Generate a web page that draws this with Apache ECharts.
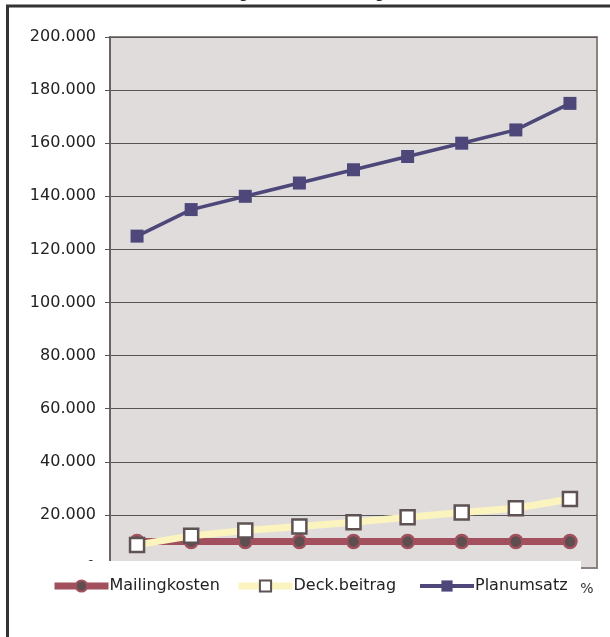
<!DOCTYPE html>
<html>
<head>
<meta charset="utf-8">
<script src="https://cdn.jsdelivr.net/npm/echarts@6/dist/echarts.min.js"></script>
<style>
  html, body { margin: 0; padding: 0; background: #fff; }
  #chart { width: 610px; height: 637px; }
</style>
</head>
<body>
<div id="chart"></div>
<script>
// Campaign steps along the x axis
const categories = ['1', '2', '3', '4', '5', '6', '7', '8', '9'];
// Values in Euro
const mailingkosten = [10000, 10000, 10000, 10000, 10000, 10000, 10000, 10000, 10000];
const deckbeitrag   = [8700, 12100, 14100, 15600, 17200, 19100, 20900, 22500, 26000];
const planumsatz    = [125000, 135000, 140000, 145000, 150000, 155000, 160000, 165000, 175000];
const seriesNames = ['Mailingkosten', 'Deck.beitrag', 'Planumsatz'];
const titleText = 'Erfolgskontrolle Mailingaktion';

const labelFont = 'DejaVu Sans, Verdana, sans-serif';
const titleFont = 'Liberation Sans, Arial, sans-serif';

function thousands(v) {
  if (v === 0) return '0';
  return String(v).replace(/\B(?=(\d{3})+(?!\d))/g, '.');
}

const chart = echarts.init(document.getElementById('chart'), null, { renderer: 'canvas' });

const legendBase = {
  top: 573,
  itemWidth: 54,
  itemHeight: 14,
  itemGap: 0,
  textStyle: { fontFamily: labelFont, fontSize: 16, color: '#222', padding: [0, 0, 0, -4] },
  z: 5
};

chart.setOption({
  backgroundColor: '#ffffff',
  animation: false,
  grid: {
    left: 110, right: 13, top: 37, bottom: 69,
    show: true,
    backgroundColor: '#e0dcdb',
    borderColor: '#8d8280',
    borderWidth: 2
  },
  xAxis: {
    type: 'category',
    data: categories,
    boundaryGap: true,
    axisLine: { show: true, lineStyle: { color: '#8d8280', width: 2 } },
    axisTick: { show: false },
    axisLabel: { show: false },
    splitLine: { show: false }
  },
  yAxis: {
    type: 'value',
    min: 0, max: 200000, interval: 20000,
    axisLine: { show: true, lineStyle: { color: '#6b6262', width: 2 } },
    axisTick: { show: true, length: 5, lineStyle: { color: '#555', width: 1 } },
    axisLabel: {
      margin: 14,
      fontFamily: labelFont, fontSize: 16, color: '#222',
      formatter: thousands
    },
    splitLine: { show: true, lineStyle: { color: '#555', width: 1 } }
  },
  legend: [
    Object.assign({}, legendBase, { left: 46, data: [{ name: seriesNames[0], lineStyle: { width: 7 } }] }),
    Object.assign({}, legendBase, { left: 230, data: [{ name: seriesNames[1], lineStyle: { width: 7 } }] }),
    Object.assign({}, legendBase, { left: 413, data: [{ name: seriesNames[2], lineStyle: { width: 4 } }] })
  ],
  series: [
    {
      name: seriesNames[0],
      type: 'line',
      data: mailingkosten,
      symbol: 'circle',
      symbolSize: 13,
      lineStyle: { color: '#a3505e', width: 7 },
      itemStyle: { color: '#5e4e50', borderColor: '#a3505e', borderWidth: 2.5 },
      z: 2
    },
    {
      name: seriesNames[1],
      type: 'line',
      data: deckbeitrag,
      symbol: 'rect',
      symbolSize: 14,
      lineStyle: { color: '#fbf4bf', width: 7 },
      itemStyle: { color: '#ffffff', borderColor: '#5e5252', borderWidth: 2.5 },
      z: 3
    },
    {
      name: seriesNames[2],
      type: 'line',
      data: planumsatz,
      symbol: 'rect',
      symbolSize: 13,
      lineStyle: { color: '#4d4879', width: 3.5 },
      itemStyle: { color: '#4d4879', borderColor: '#4d4879', borderWidth: 0 },
      z: 4
    }
  ],
  graphic: [
    // outer frame
    {
      type: 'rect', z: 10,
      shape: { x: 7.5, y: 6, width: 720, height: 720 },
      style: { fill: 'none', stroke: '#333', lineWidth: 3 }
    },
    // title, only its lower edge falls inside the canvas
    {
      type: 'text', z: 10, x: 317, y: 2,
      style: {
        text: titleText, font: 'bold 16px ' + titleFont, fill: '#222',
        align: 'center', verticalAlign: 'bottom'
      }
    },
    // white legend panel over the lower part of the plot
    {
      type: 'rect', z: 4,
      shape: { x: 9, y: 561, width: 572, height: 60 },
      style: { fill: '#ffffff' }
    },
    // trailing piece of an axis label beside the legend panel
    {
      type: 'text', z: 3, x: 587, y: 589,
      style: { text: '%', font: '14px ' + labelFont, fill: '#333', align: 'center', verticalAlign: 'middle' }
    },
    {
      type: 'rect', z: 4,
      shape: { x: 581, y: 570, width: 14, height: 13 },
      style: { fill: '#ffffff' }
    }
  ]
});
</script>
</body>
</html>
